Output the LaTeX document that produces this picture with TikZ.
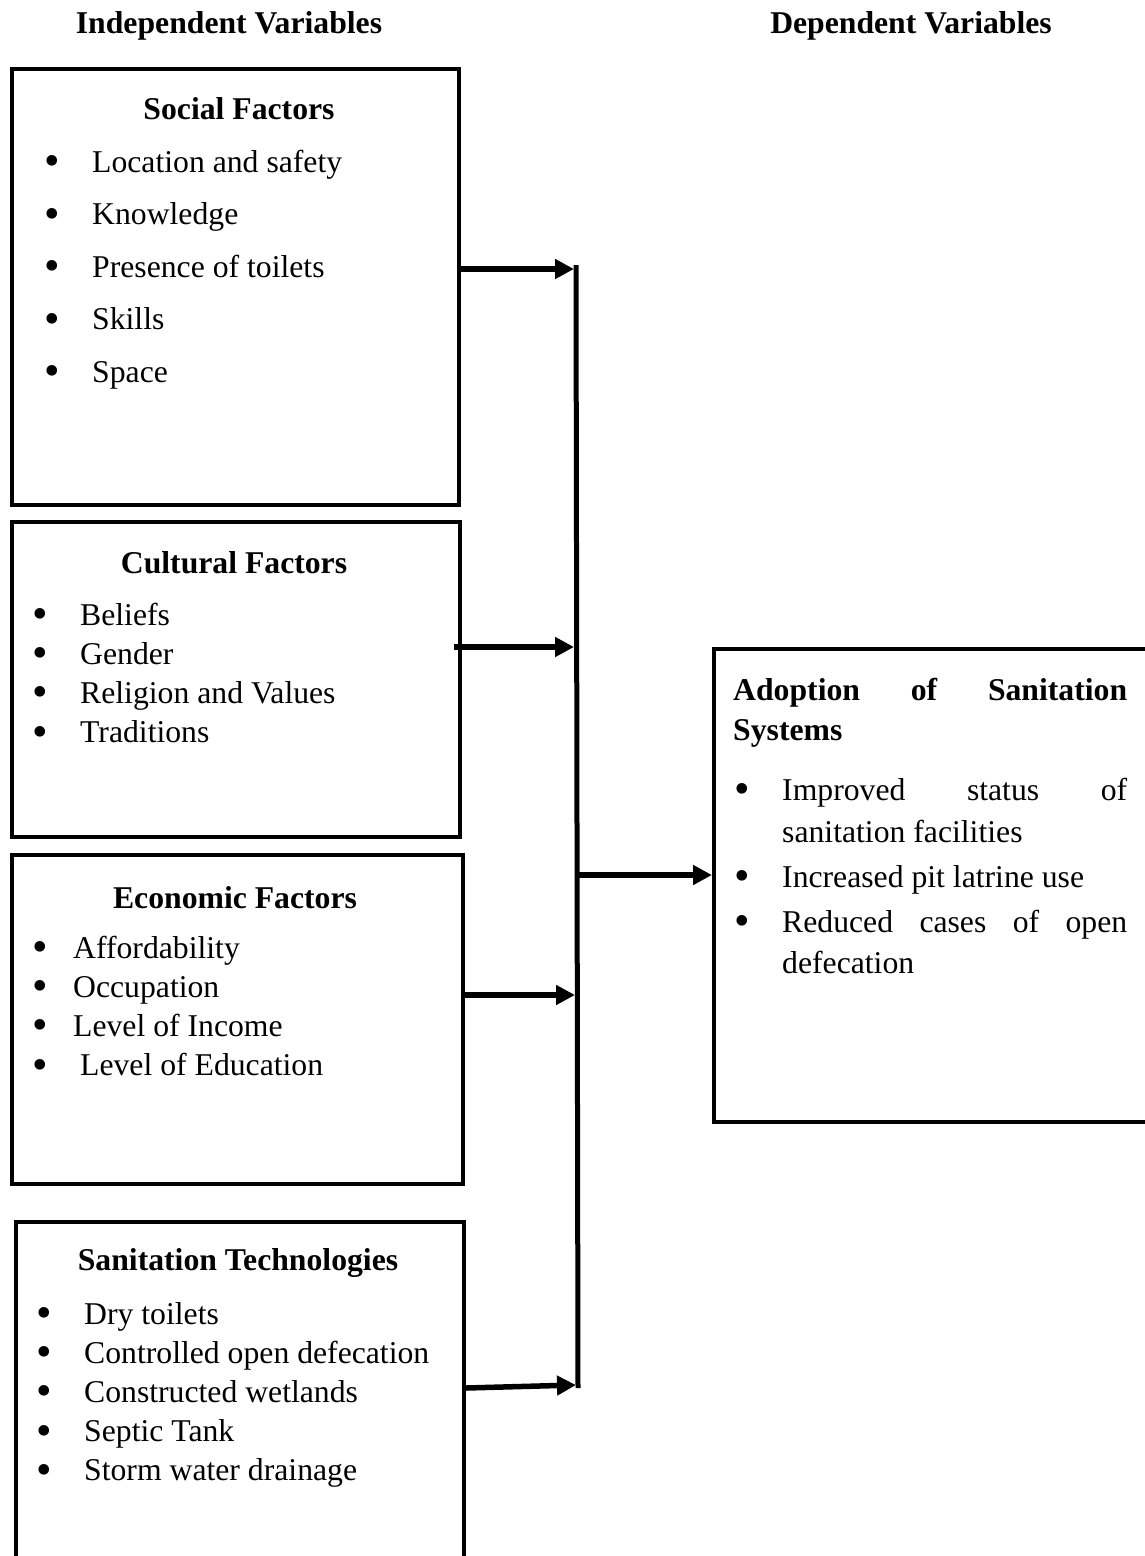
\documentclass[tikz,border=0pt]{standalone}
\usepackage{fontspec}
\setmainfont{Liberation Serif}
\usetikzlibrary{arrows.meta}
\newcommand{\fsz}{\fontsize{31.7}{38}\selectfont}
\newcommand{\bu}{\smash{•}}
\begin{document}
\begin{tikzpicture}[x=1pt,y=-1pt,
  box/.style={draw, line width=4pt, inner sep=0pt},
  hd/.style={anchor=base, font=\bfseries\fsz, inner sep=0pt},
  itm/.style={anchor=base west, font=\fsz, inner sep=0pt},
  bul/.style={anchor=base, font=\fsz, inner sep=0pt, scale=1.4, yshift=-2.5pt, xshift=1.5pt},
  conn/.style={line width=5.5pt, -{Triangle[length=19pt,width=19pt]}},
  vline/.style={line width=5pt},
]
\useasboundingbox (0,0) rectangle (1145,1556);
\clip (0,0) rectangle (1145,1556);

% headers
\node[hd] (indep) at (229,33) {Independent Variables};
\node[hd] (dep) at (911,33) {Dependent Variables};

% boxes
\node[box, anchor=north west, minimum width=447pt, minimum height=436pt] (social) at (10,67) {};
\node[box, anchor=north west, minimum width=448pt, minimum height=315pt] (cultural) at (10,520) {};
\node[box, anchor=north west, minimum width=451pt, minimum height=329pt] (economic) at (10,853) {};
\node[box, anchor=north west, minimum width=448pt, minimum height=380pt] (tech) at (14,1220) {};
\node[box, anchor=north west, minimum width=488pt, minimum height=473pt] (adopt) at (712,647) {};

% social
\node[hd] (socialh) at (239,119) {Social Factors};
\foreach \t [count=\i from 0] in {Location and safety, Knowledge, Presence of toilets, Skills, Space}{
  \node[bul] (sb\i) at (50,172+52.5*\i) {\bu};
  \node[itm] (st\i) at (92,172+52.5*\i) {\t};
}

% cultural
\node[hd] (culturalh) at (234,573) {Cultural Factors};
\foreach \t [count=\i from 0] in {Beliefs, Gender, Religion and Values, Traditions}{
  \node[bul] (cb\i) at (38,625+39.2*\i) {\bu};
  \node[itm] (ct\i) at (80,625+39.2*\i) {\t};
}

% economic
\node[hd] (economich) at (235,908) {Economic Factors};
\foreach \t [count=\i from 0] in {Affordability, Occupation, Level of Income}{
  \node[bul] (eb\i) at (38,958+39.2*\i) {\bu};
  \node[itm] (et\i) at (73,958+39.2*\i) {\t};
}
\node[bul] (eb3) at (38,958+39.2*3) {\bu};
\node[itm] (et3) at (80,958+39.2*3) {Level of Education};

% technologies
\node[hd] (techh) at (238,1270) {Sanitation Technologies};
\foreach \t [count=\i from 0] in {Dry toilets, Controlled open defecation, Constructed wetlands, Septic Tank, Storm water drainage}{
  \node[bul] (tb\i) at (42,1324+39.2*\i) {\bu};
  \node[itm] (tt\i) at (84,1324+39.2*\i) {\t};
}

% adoption
\node[itm, font=\bfseries\fsz] (ah1) at (733,700) {\makebox[394pt][s]{Adoption of Sanitation}};
\node[itm, font=\bfseries\fsz] (ah2) at (733,740) {Systems};
\node[bul] (ab1) at (740,800) {\bu};
\node[itm] (at1) at (782,800) {\makebox[345pt][s]{Improved status of}};
\node[itm] (at1b) at (782,842) {sanitation facilities};
\node[bul] (ab2) at (740,887) {\bu};
\node[itm] (at2) at (782,887) {Increased pit latrine use};
\node[bul] (ab3) at (740,932) {\bu};
\node[itm] (at3) at (782,932) {\makebox[345pt][s]{Reduced cases of open}};
\node[itm] (at3b) at (782,973) {defecation};

% connectors
\coordinate (vtop) at (576,265);
\coordinate (vbot) at (578,1388);
\coordinate (j1) at (574,269);
\coordinate (j2) at (574,647);
\coordinate (j3) at (575,995);
\coordinate (j4) at (576,1385);
\coordinate (jo) at (578,875);
\draw[vline] (vtop) -- (vbot);
\draw[conn] (social.east |- j1) -- (j1);
\draw[conn] (454,647) -- (j2);
\draw[conn] (economic.east |- j3) -- (j3);
\draw[conn] (tech.east |- 0,1388) -- (j4);
\draw[conn] (jo) -- (adopt.west |- jo);
\end{tikzpicture}
\end{document}
